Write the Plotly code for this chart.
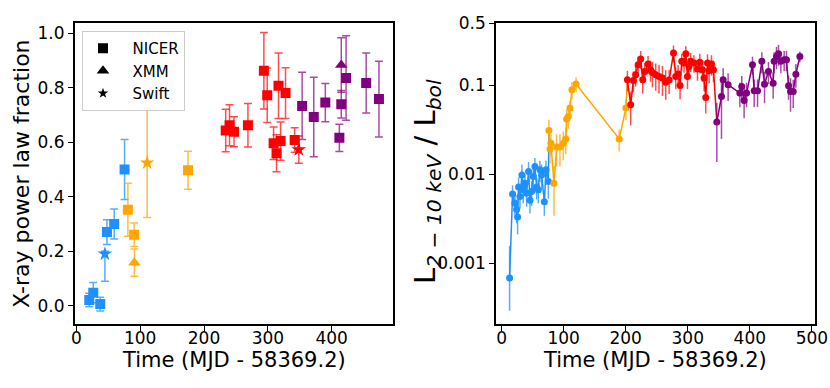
import plotly.graph_objects as go

# ---------------- Left panel data: X-ray power law fraction ----------------
# phase: 0 = blue, 1 = orange, 2 = red, 3 = purple
nicer_t = [20.3, 26.6, 37.5, 48.0, 59.4, 75.6,
           80.8, 90.6, 175.0,
           234.0, 240.0, 247.0, 268.8, 293.8, 299.0, 316.7, 327.7, 309.0, 313.6, 320.0, 342.0,
           353.7, 371.9, 390.0, 412.0, 415.0, 422.5, 454.0, 474.0]
nicer_f = [0.021, 0.048, 0.006, 0.27, 0.30, 0.50,
           0.352, 0.26, 0.497,
           0.643, 0.662, 0.638, 0.662, 0.862, 0.772, 0.807, 0.78, 0.596, 0.559, 0.604, 0.608,
           0.733, 0.692, 0.745, 0.616, 0.739, 0.835, 0.817, 0.758]
nicer_err = [0.025, 0.037, 0.025, 0.045, 0.055, 0.11,
             0.097, 0.043, 0.07,
             0.078, 0.075, 0.055, 0.08, 0.14, 0.10, 0.12, 0.093, 0.06, 0.068, 0.07, 0.045,
             0.123, 0.146, 0.07, 0.05, 0.05, 0.155, 0.11, 0.139]
nicer_phase = [0] * 6 + [1] * 3 + [2] * 12 + [3] * 8

xmm_t = [91.0, 415.0]
xmm_f = [0.158, 0.883]
xmm_err = [0.05, 0.10]
xmm_phase = [1, 3]

swift_t = [44.8, 111.0, 348.5]
swift_f = [0.19, 0.524, 0.573]
swift_err_plus = [0.01, 0.20, 0.05]
swift_err_minus = [0.10, 0.20, 0.05]
swift_phase = [0, 1, 2]

# ---------------- Right panel data: L(2-10 keV) / L(bol) ----------------
blue_t = [12.9, 17.7, 21.5, 24.2, 25.8, 27.4, 29.6, 32.8, 35.0, 37.6, 40.3, 43.5,
          45.7, 48.4, 51.0, 53.7, 56.5, 59.2, 61.8, 64.5, 68.9, 71.5, 75.3]
blue_r = [0.00068, 0.0060, 0.0047, 0.0040, 0.0033, 0.0072, 0.0056, 0.0098, 0.0067, 0.0079, 0.0061, 0.0107,
          0.0051, 0.0064, 0.0094, 0.0122, 0.0072, 0.0067, 0.0112, 0.0098, 0.0049, 0.0112, 0.0083]
blue_err_plus = [0.00088, 0.0015, 0.0012, 0.0012, 0.0012, 0.0020, 0.0015, 0.0030, 0.0020, 0.0020, 0.0018, 0.0030,
                 0.0015, 0.0020, 0.0030, 0.0030, 0.0020, 0.0020, 0.0030, 0.0030, 0.0015, 0.0030, 0.0030]
blue_err_minus = [0.00039, 0.0015, 0.0012, 0.0012, 0.0012, 0.0020, 0.0015, 0.0030, 0.0020, 0.0020, 0.0018, 0.0030,
                  0.0015, 0.0020, 0.0030, 0.0030, 0.0020, 0.0020, 0.0030, 0.0030, 0.0015, 0.0030, 0.0030]

orange_t = [76.3, 78.0, 79.5, 84.4, 88.7, 94.0, 99.5, 103.5, 104.8, 107.6, 110.2, 113.4, 120.0, 189.5, 200.3]
orange_r = [0.031, 0.0192, 0.0224, 0.0079, 0.0202, 0.0202, 0.0224, 0.0249, 0.0418, 0.0447, 0.0556,
            0.0895, 0.104, 0.025, 0.0556]
orange_err = [0.010, 0.006, 0.006, 0.0045, 0.008, 0.008, 0.008, 0.008, 0.012, 0.012, 0.012,
              0.02, 0.02, 0.007, 0.015]

red_t = [202.7, 208.0, 212.4, 216.0, 220.0, 224.2, 227.4, 230.6, 236.0, 240.0, 243.0, 248.4,
         253.7, 259.2, 264.5, 270.0, 277.0, 280.6, 284.4, 287.6, 290.3, 294.0, 296.8, 299.5,
         302.0, 304.8, 310.0, 315.6, 319.4, 323.7, 326.3, 329.0, 331.8, 334.4, 338.2, 341.4]
red_r = [0.116, 0.0605, 0.114, 0.132, 0.171, 0.199, 0.116, 0.144, 0.174, 0.150, 0.140, 0.132,
         0.126, 0.121, 0.109, 0.115, 0.232, 0.126, 0.135, 0.100, 0.187, 0.179, 0.227, 0.126,
         0.164, 0.187, 0.179, 0.153, 0.182, 0.150, 0.121, 0.0733, 0.179, 0.146, 0.174, 0.150]
red_err = [0.030, 0.025, 0.030, 0.035, 0.040, 0.045, 0.035, 0.035, 0.040, 0.040, 0.045, 0.045,
           0.045, 0.045, 0.040, 0.035, 0.050, 0.035, 0.035, 0.030, 0.040, 0.040, 0.050, 0.035,
           0.040, 0.045, 0.040, 0.040, 0.045, 0.040, 0.035, 0.025, 0.045, 0.040, 0.045, 0.040]

purple_t = [346.8, 354.3, 357.0, 365.0, 383.9, 387.0, 390.8, 394.7, 404.3, 407.0, 412.4, 419.4, 423.7,
            430.0, 437.6, 439.2, 443.0, 446.2, 450.0, 455.3, 459.0, 462.4, 465.6, 469.9, 474.2, 480.6]
purple_r = [0.0387, 0.075, 0.116, 0.102, 0.082, 0.0975, 0.0678, 0.082, 0.171, 0.087, 0.087, 0.187, 0.103,
            0.144, 0.106, 0.187, 0.212, 0.227, 0.187, 0.195, 0.195, 0.099, 0.0856, 0.0856, 0.134, 0.212]
purple_err = [0.025, 0.05, 0.04, 0.035, 0.025, 0.03, 0.025, 0.025, 0.04, 0.03, 0.03, 0.05, 0.04,
              0.04, 0.035, 0.05, 0.06, 0.06, 0.05, 0.05, 0.05, 0.03, 0.035, 0.03, 0.04, 0.03]

left_yticks = [0.0, 0.2, 0.4, 0.6, 0.8, 1.0]
xticks = [0, 100, 200, 300, 400, 500]
right_yticks = [0.001, 0.01, 0.1, 0.5]
right_yticklabels = ["0.001", "0.01", "0.1", "0.5"]

# ---------------- Styling ----------------
FONT = "DejaVu Sans"
phase_colors = ["#1E90FF", "#FFA500", "#FF0000", "#800080"]
phase_err_colors = ["rgba(30,144,255,0.75)", "rgba(255,165,0,0.75)",
                    "rgba(255,0,0,0.7)", "rgba(128,0,128,0.7)"]

fig = go.Figure()


def add_left(ts, fs, ep, em, phases, symbol, size):
    for ph in range(4):
        idx = [i for i, p in enumerate(phases) if p == ph]
        if not idx:
            continue
        fig.add_trace(go.Scatter(
            x=[ts[i] for i in idx], y=[fs[i] for i in idx],
            mode="markers", showlegend=False,
            marker=dict(symbol=symbol, size=size, color=phase_colors[ph], line=dict(width=0)),
            error_y=dict(type="data", symmetric=False,
                         array=[ep[i] for i in idx], arrayminus=[em[i] for i in idx],
                         color=phase_err_colors[ph], thickness=1.5, width=4),
            xaxis="x", yaxis="y"))


add_left(nicer_t, nicer_f, nicer_err, nicer_err, nicer_phase, "square", 10)
add_left(xmm_t, xmm_f, xmm_err, xmm_err, xmm_phase, "triangle-up", 11)
add_left(swift_t, swift_f, swift_err_plus, swift_err_minus, swift_phase, "star", 11)

# legend entries
for name, sym, sz in [("NICER", "square", 10), ("XMM", "triangle-up", 11), ("Swift", "star", 8)]:
    fig.add_trace(go.Scatter(x=[None], y=[None], mode="markers", name="&nbsp;&nbsp;" + name,
                             marker=dict(symbol=sym, size=sz, color="black"),
                             xaxis="x", yaxis="y"))

# right panel
segments = [
    (blue_t, blue_r, blue_err_plus, blue_err_minus, 0),
    (orange_t, orange_r, orange_err, orange_err, 1),
    (red_t, red_r, red_err, red_err, 2),
    (purple_t, purple_r, purple_err, purple_err, 3),
]
for k, (ts, rs, ep, em, ph) in enumerate(segments):
    lx, ly = list(ts), list(rs)
    if k + 1 < len(segments):
        lx.append(segments[k + 1][0][0])
        ly.append(segments[k + 1][1][0])
    fig.add_trace(go.Scatter(x=lx, y=ly, mode="lines", showlegend=False,
                             line=dict(color=phase_colors[ph], width=1.5),
                             xaxis="x2", yaxis="y2"))
    fig.add_trace(go.Scatter(x=ts, y=rs, mode="markers", showlegend=False,
                             marker=dict(symbol="circle", size=7, color=phase_colors[ph]),
                             error_y=dict(type="data", symmetric=False, array=ep, arrayminus=em,
                                          color=phase_err_colors[ph], thickness=1.5, width=0),
                             xaxis="x2", yaxis="y2"))

axis_common = dict(showgrid=False, zeroline=False, showline=True, linecolor="black", linewidth=1.5,
                   mirror=True, ticks="outside", ticklen=5, tickwidth=1, tickcolor="black",
                   automargin=False,
                   tickfont=dict(family=FONT, size=17, color="black"))

fig.update_layout(
    width=830, height=388,
    margin=dict(l=0, r=0, t=0, b=0, autoexpand=False),
    paper_bgcolor="white", plot_bgcolor="white",
    font=dict(family=FONT, color="black"),
    xaxis=dict(domain=[74.7 / 830, 393 / 830], range=[-2.5, 496], tickvals=xticks[:-1],
               ticklabelstandoff=-7, **axis_common),
    yaxis=dict(domain=[1 - 324 / 388, 1 - 23 / 388], range=[-0.067, 1.037],
               tickvals=left_yticks, ticktext=["%.1f" % v for v in left_yticks], **axis_common),
    xaxis2=dict(domain=[496 / 830, 815 / 830], range=[-9, 505], tickvals=xticks, anchor="y2",
                ticklabelstandoff=-7, **axis_common),
    yaxis2=dict(domain=[1 - 324 / 388, 1 - 23 / 388], type="log", range=[-3.687, -0.2965],
                tickvals=right_yticks, ticktext=right_yticklabels, anchor="x2", **axis_common),
    legend=dict(x=82 / 830, y=1 - 31 / 388, xanchor="left", yanchor="top",
                bgcolor="rgba(255,255,255,0.85)", bordercolor="#cccccc", borderwidth=1,
                font=dict(family=FONT, size=15, color="black")),
    showlegend=True,
)

fig.add_annotation(text="X-ray power law fraction", x=22 / 830, y=1 - 174 / 388, xref="paper", yref="paper",
                   showarrow=False, textangle=-90, xanchor="center", yanchor="middle",
                   font=dict(family=FONT, size=22, color="black"))
fig.add_annotation(text="L<sub><i>2 − 10 keV</i></sub> / L<sub><i>bol</i></sub>", x=427 / 830, y=1 - 182 / 388,
                   xref="paper", yref="paper", showarrow=False, textangle=-90,
                   xanchor="center", yanchor="middle", font=dict(family=FONT, size=29, color="black"))
fig.add_annotation(text="Time (MJD - 58369.2)", x=234 / 830, y=1 - 360 / 388, xref="paper", yref="paper",
                   showarrow=False, xanchor="center", yanchor="middle",
                   font=dict(family=FONT, size=21, color="black"))
fig.add_annotation(text="Time (MJD - 58369.2)", x=655 / 830, y=1 - 360 / 388, xref="paper", yref="paper",
                   showarrow=False, xanchor="center", yanchor="middle",
                   font=dict(family=FONT, size=21, color="black"))

fig.write_html("out.html", config={"displayModeBar": False},
               post_script="document.body.style.margin='0';document.body.style.padding='0';"
                           "document.body.style.overflow='hidden';")
